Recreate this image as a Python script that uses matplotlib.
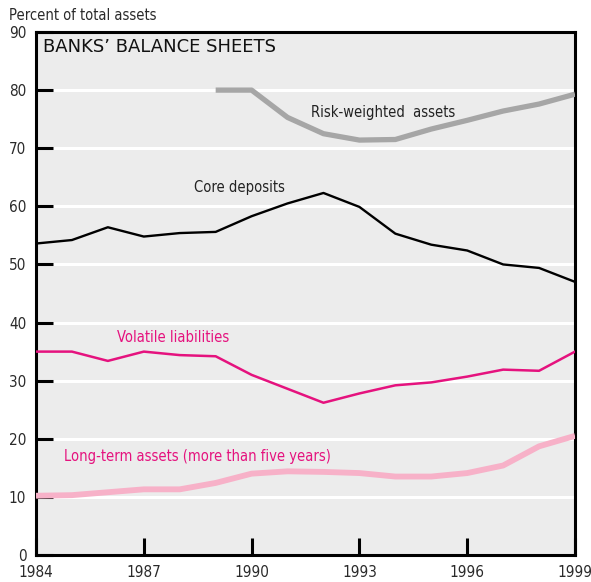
import matplotlib
matplotlib.use("Agg")
import matplotlib.pyplot as plt
from matplotlib import font_manager

years = list(range(1984, 2000))
core_deposits = [53.6, 54.2, 56.4, 54.8, 55.4, 55.6, 58.3, 60.5, 62.3, 59.9, 55.3, 53.4, 52.4, 50.0, 49.4, 47.0]
volatile_liab = [35.0, 35.0, 33.4, 35.0, 34.4, 34.2, 31.0, 28.6, 26.2, 27.8, 29.2, 29.7, 30.7, 31.9, 31.7, 35.0]
long_term = [10.2, 10.3, 10.8, 11.3, 11.3, 12.4, 14.0, 14.4, 14.3, 14.1, 13.5, 13.5, 14.1, 15.4, 18.7, 20.5]
risk_years = list(range(1989, 2000))
risk_weighted = [80.0, 80.0, 75.3, 72.5, 71.4, 71.5, 73.3, 74.8, 76.4, 77.6, 79.3]

xticks = [1984, 1987, 1990, 1993, 1996, 1999]
yticks = list(range(0, 91, 10))

names = {f.name for f in font_manager.fontManager.ttflist}
fam = ['Liberation Sans Narrow', 'DejaVu Sans'] if 'Liberation Sans Narrow' in names else ['DejaVu Sans']
plt.rcParams['font.family'] = fam
if 'Liberation Sans Narrow' not in names:
    plt.rcParams['font.stretch'] = 'condensed'

fig = plt.figure(figsize=(5.91, 5.82), dpi=100)
ax = fig.add_axes([36/591, 1-555/582, (575-36)/591, (555-32)/582])
ax.set_facecolor('#ececec')
ax.set_xlim(1984, 1999)
ax.set_ylim(0, 90)

for y in range(10, 90, 10):
    ax.axhline(y, color='white', lw=2.2, zorder=1)

ax.plot(risk_years, risk_weighted, color='#a6a6a6', lw=3.8, solid_capstyle='butt', zorder=3)
ax.plot(years, long_term, color='#f7b1c8', lw=4.2, solid_capstyle='butt', zorder=3)
ax.plot(years, core_deposits, color='black', lw=1.7, zorder=4)
ax.plot(years, volatile_liab, color='#e5127e', lw=1.8, zorder=4)

for s in ax.spines.values():
    s.set_linewidth(2.2)
    s.set_color('black')

ax.set_xticks(xticks)
ax.set_xticklabels([str(x) for x in xticks])
ax.set_yticks(yticks)
ax.set_yticklabels([str(y) for y in yticks])
ax.tick_params(axis='both', direction='in', length=12, width=2.2, labelsize=11, colors='black', labelcolor='#2a2a2a')
ax.tick_params(axis='x', pad=7)
ax.tick_params(axis='y', pad=7)

ax.text(1984.2, 87.4, 'BANKS\u2019 BALANCE SHEETS', fontsize=13, fontstretch='normal', va='center', ha='left', color='#111111', zorder=5)
ax.text(1991.65, 76.1, 'Risk-weighted  assets', fontsize=10.5, va='center', ha='left', color='#222222', zorder=5)
ax.text(1988.4, 63.2, 'Core deposits', fontsize=10.5, va='center', ha='left', color='#222222', zorder=5)
ax.text(1986.25, 37.5, 'Volatile liabilities', fontsize=10.5, va='center', ha='left', color='#e5127e', zorder=5)
ax.text(1984.78, 16.9, 'Long-term assets (more than five years)', fontsize=10.5, va='center', ha='left', color='#e5127e', zorder=5)

fig.text(9/591, 1-15/582, 'Percent of total assets', fontsize=10.5, va='center', ha='left', color='#2a2a2a')

fig.savefig('out.png', dpi=100)
